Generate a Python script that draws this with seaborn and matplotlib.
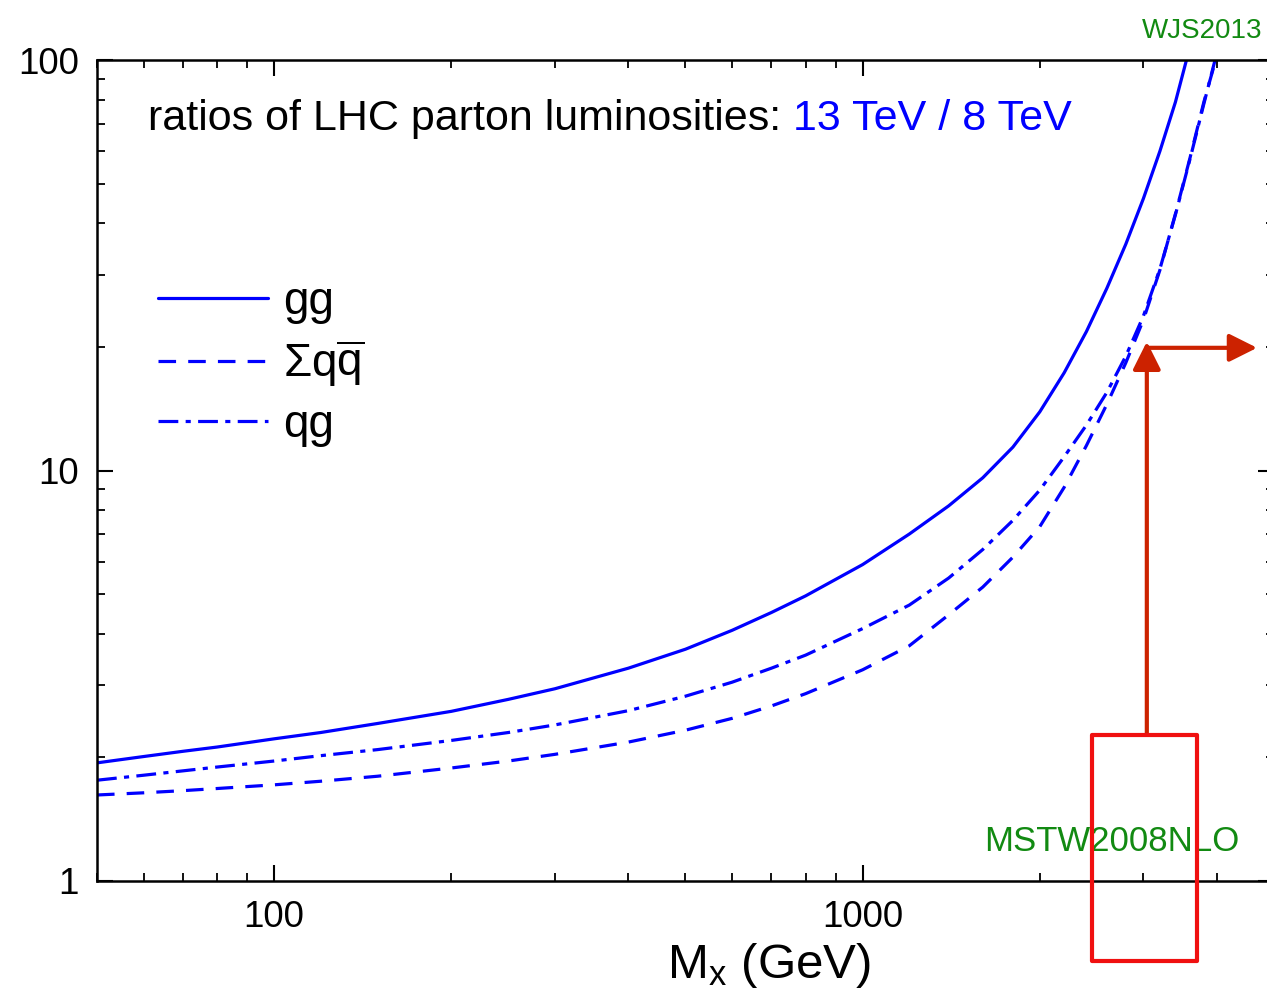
import matplotlib
matplotlib.use('Agg')
import matplotlib.pyplot as plt
from matplotlib.patches import Rectangle
from matplotlib.ticker import LogLocator, FuncFormatter, NullFormatter
import seaborn as sns
import pandas as pd

# values (M_X in GeV, 13 TeV / 8 TeV luminosity ratio)
mass_gg = [50, 60, 70, 80, 100, 120, 150, 200, 250, 300, 400, 500, 600, 700, 800,
           1000, 1200, 1400, 1600, 1800, 2000, 2200, 2400, 2600, 2800, 3000, 3200,
           3400, 3550]
ratio_gg = [1.94, 2.01, 2.07, 2.12, 2.22, 2.30, 2.42, 2.59, 2.77, 2.94, 3.30, 3.67,
            4.08, 4.51, 4.95, 5.9, 7.0, 8.2, 9.6, 11.4, 13.9, 17.3, 21.8, 27.8, 35.6,
            46, 60, 79, 100]

mass_qq = [50, 60, 70, 80, 100, 120, 150, 200, 250, 300, 400, 500, 600, 700, 800,
           1000, 1200, 1400, 1600, 1800, 2000, 2200, 2400, 2600, 2800, 3000, 3200,
           3400, 3600, 3800, 3980]
ratio_qq = [1.62, 1.64, 1.66, 1.68, 1.715, 1.75, 1.80, 1.885, 1.96, 2.035, 2.18, 2.33,
            2.49, 2.67, 2.86, 3.27, 3.74, 4.45, 5.2, 6.15, 7.3, 9.1, 11.5, 14.5, 18.3,
            23.3, 30.8, 42.2, 57.8, 79, 100]

mass_qg = [50, 60, 70, 80, 100, 120, 150, 200, 250, 300, 400, 500, 600, 700, 800,
           1000, 1200, 1400, 1600, 1800, 2000, 2200, 2400, 2600, 2800, 3000, 3200,
           3400, 3600, 3800, 3970]
ratio_qg = [1.76, 1.81, 1.855, 1.895, 1.96, 2.02, 2.09, 2.20, 2.30, 2.40, 2.60, 2.82,
            3.05, 3.30, 3.55, 4.12, 4.70, 5.47, 6.42, 7.56, 8.96, 10.8, 12.9, 15.5, 19.0,
            23.8, 31.0, 42, 57.4, 78.2, 100]

channels = ['gg', 'qq', 'qg']
labels = ['gg', r'Σq$\overline{\mathrm{q}}$', 'qg']

# highlighted region (red box + arrows)
box_mass = [2450, 3700]
box_ratio = [0.64, 2.27]
arrow_mass = [3040, 4680]
arrow_ratio = [2.27, 20.6, 19.9]

sns.set_theme(style='white')
plt.rcParams['font.family'] = ['Liberation Sans', 'DejaVu Sans']
plt.rcParams['mathtext.fontset'] = 'custom'
plt.rcParams['mathtext.rm'] = 'Liberation Sans'
plt.rcParams['mathtext.it'] = 'Liberation Sans:italic'
plt.rcParams['mathtext.sf'] = 'Liberation Sans'
plt.rcParams['text.color'] = 'black'
plt.rcParams['axes.labelcolor'] = 'black'

df = pd.concat([
    pd.DataFrame({'mass': mass_gg, 'ratio': ratio_gg, 'channel': 'gg'}),
    pd.DataFrame({'mass': mass_qq, 'ratio': ratio_qq, 'channel': 'qq'}),
    pd.DataFrame({'mass': mass_qg, 'ratio': ratio_qg, 'channel': 'qg'}),
])

fig = plt.figure(figsize=(12.67, 9.94), dpi=100)
W, H = 1267, 994
ax = fig.add_axes([97 / W, 1 - 881 / H, 1177 / W, 821 / H])

blue = '#0000ff'
sns.lineplot(data=df, x='mass', y='ratio', hue='channel', style='channel',
             hue_order=channels, style_order=channels,
             palette={c: blue for c in channels},
             dashes={'gg': '', 'qq': (5.5, 3.8), 'qg': (6.2, 2.3, 1.6, 2.3)},
             lw=2.3, estimator=None, sort=True, legend=False, ax=ax)

ax.set_xscale('log')
ax.set_yscale('log')
ax.set_xlim(50, 5000)
ax.set_ylim(1, 100)

for sp in ax.spines.values():
    sp.set_color('black')
    sp.set_linewidth(1.8)

ax.xaxis.set_major_locator(LogLocator(base=10, numticks=10))
ax.xaxis.set_minor_locator(LogLocator(base=10, subs=range(2, 10), numticks=20))
ax.yaxis.set_major_locator(LogLocator(base=10, numticks=10))
ax.yaxis.set_minor_locator(LogLocator(base=10, subs=range(2, 10), numticks=20))
plain = FuncFormatter(lambda v, p: '%d' % round(v))
ax.xaxis.set_major_formatter(plain)
ax.yaxis.set_major_formatter(plain)
ax.xaxis.set_minor_formatter(NullFormatter())
ax.yaxis.set_minor_formatter(NullFormatter())
ax.tick_params(which='both', direction='in', bottom=True, left=True, top=True,
               right=True, colors='black')
ax.tick_params(which='major', length=11.5, width=1.5, labelsize=26.5)
ax.tick_params(which='minor', length=6, width=1.3)
ax.tick_params(axis='x', which='major', pad=13.5)
ax.tick_params(axis='y', which='major', pad=13)

ax.set_xlabel(r'M$_{\mathrm{x}}$ (GeV)', fontsize=35.5, color='black')
ax.xaxis.set_label_coords(0.571, -0.073)
ax.set_ylabel('')

t1 = ax.text(0.0433, 0.9147, 'ratios of LHC parton luminosities: ', transform=ax.transAxes,
             fontsize=31, color='black', va='baseline', ha='left')
ax.annotate('13 TeV / 8 TeV', xy=(1, 0), xycoords=t1, fontsize=31, color=blue,
            va='bottom', ha='left')

ax.legend(ax.get_lines(), labels, loc='upper left', bbox_to_anchor=(0.0518, 0.732),
          frameon=False, fontsize=33, borderpad=0, borderaxespad=0,
          handlelength=2.4, handletextpad=0.33, labelspacing=0.31)

fig.text(1262 / W, 1 - 38 / H, 'WJS2013', fontsize=20, color='#128a12',
         ha='right', va='baseline')
ax.text(0.971, 0.0365, 'MSTW2008NLO', transform=ax.transAxes, fontsize=25,
        color='#128a12', ha='right', va='baseline')

ax.add_patch(Rectangle((box_mass[0], box_ratio[0]), box_mass[1] - box_mass[0],
                       box_ratio[1] - box_ratio[0], fill=False, ec='#f01010',
                       lw=3, joinstyle='round', clip_on=False, zorder=5))
red = '#cc2200'
ax.annotate('', xy=(arrow_mass[0], arrow_ratio[1]), xytext=(arrow_mass[0], arrow_ratio[0]),
            arrowprops=dict(arrowstyle='-|>,head_length=1.0,head_width=0.5',
                            mutation_scale=17, lw=3, color=red, shrinkA=0, shrinkB=0),
            annotation_clip=False)
ax.annotate('', xy=(arrow_mass[1], arrow_ratio[2]), xytext=(arrow_mass[0], arrow_ratio[2]),
            arrowprops=dict(arrowstyle='-|>,head_length=1.0,head_width=0.5',
                            mutation_scale=17, lw=3, color=red, shrinkA=0, shrinkB=0),
            annotation_clip=False)

fig.savefig('out.png', dpi=100)
